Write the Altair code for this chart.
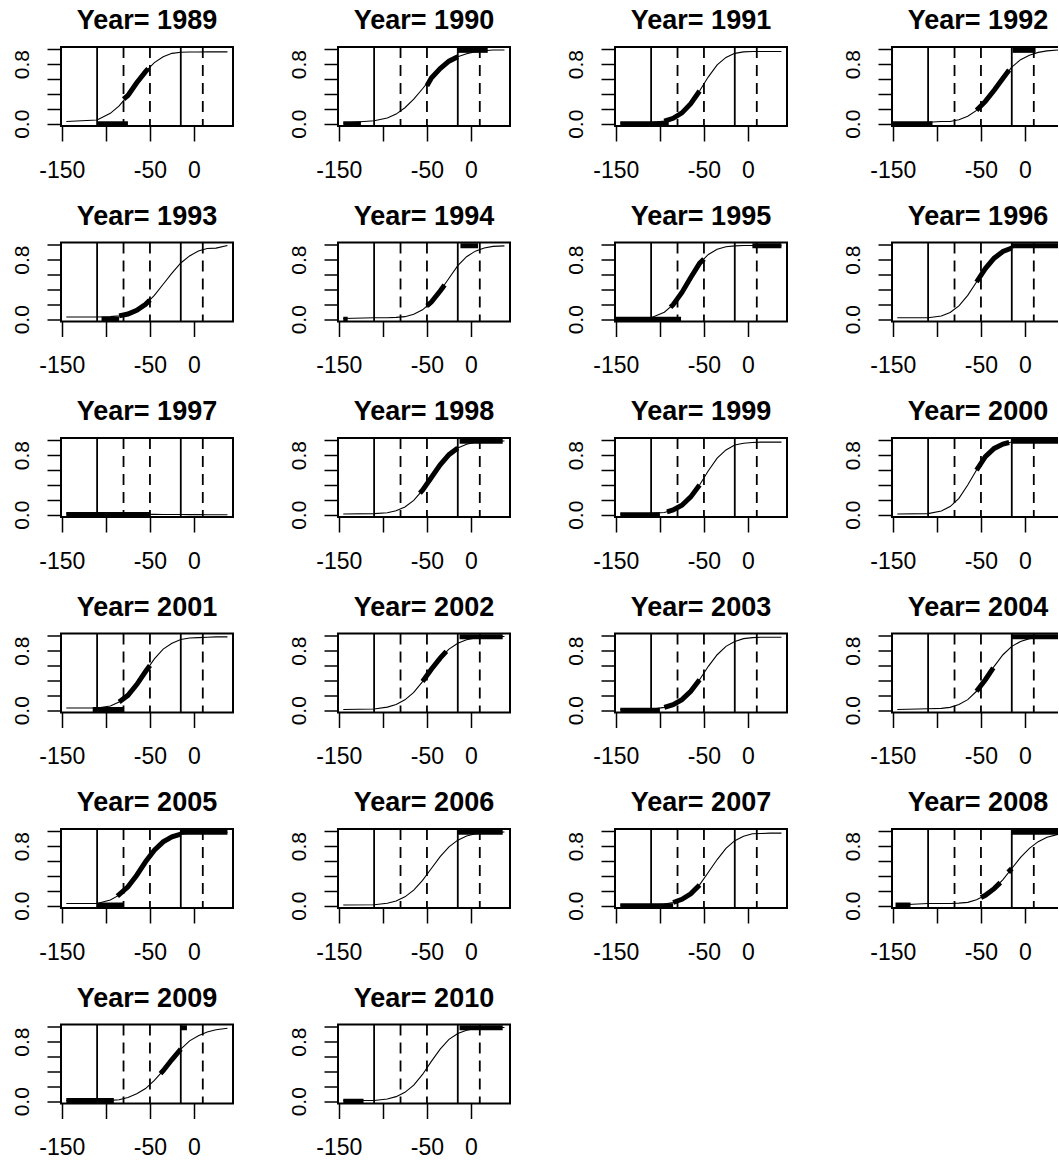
import altair as alt
import pandas as pd

YEARS = list(range(1989, 2011))

CURVE_X = [-145, -110, -95, -85, -75, -65, -55, -45, -35, -25, -15, -5, 5, 15, 25, 38]
CURVE_Y = {
    1989: [0.03, 0.05, 0.14, 0.24, 0.38, 0.55, 0.70, 0.82, 0.90, 0.945, 0.96, 0.962, 0.963, 0.964, 0.965, 0.965],
    1990: [0.01, 0.04, 0.078, 0.13, 0.215, 0.33, 0.47, 0.615, 0.74, 0.84, 0.90, 0.94, 0.968, 0.98, 0.99, 0.99],
    1991: [0.01, 0.015, 0.035, 0.073, 0.146, 0.27, 0.44, 0.63, 0.79, 0.89, 0.945, 0.965, 0.97, 0.97, 0.97, 0.97],
    1992: [0.01, 0.02, 0.03, 0.03, 0.054, 0.10, 0.18, 0.30, 0.45, 0.61, 0.76, 0.86, 0.92, 0.958, 0.978, 0.99],
    1993: [0.03, 0.03, 0.035, 0.045, 0.07, 0.12, 0.20, 0.32, 0.47, 0.62, 0.755, 0.85, 0.915, 0.95, 0.955, 0.99],
    1994: [0.01, 0.02, 0.02, 0.025, 0.035, 0.067, 0.127, 0.23, 0.38, 0.55, 0.72, 0.84, 0.914, 0.956, 0.978, 0.985],
    1995: [0.01, 0.02, 0.095, 0.195, 0.36, 0.56, 0.75, 0.87, 0.94, 0.973, 0.985, 0.99, 0.99, 0.99, 0.99, 0.99],
    1996: [0.02, 0.02, 0.044, 0.09, 0.18, 0.32, 0.50, 0.68, 0.82, 0.91, 0.956, 0.98, 0.985, 0.99, 0.99, 0.99],
    1997: [0.02, 0.015, 0.012, 0.01, 0.01, 0.008, 0.006, 0.005, 0.004, 0.003, 0.003, 0.002, 0.002, 0.001, 0.001, 0.0],
    1998: [0.01, 0.015, 0.027, 0.054, 0.105, 0.193, 0.33, 0.50, 0.67, 0.807, 0.895, 0.946, 0.973, 0.985, 0.99, 0.99],
    1999: [0.01, 0.02, 0.03, 0.064, 0.128, 0.24, 0.40, 0.59, 0.76, 0.87, 0.936, 0.96, 0.97, 0.975, 0.975, 0.975],
    2000: [0.01, 0.015, 0.051, 0.11, 0.22, 0.40, 0.60, 0.78, 0.89, 0.949, 0.977, 0.985, 0.99, 0.99, 0.99, 0.99],
    2001: [0.03, 0.03, 0.058, 0.112, 0.20, 0.345, 0.52, 0.69, 0.82, 0.90, 0.949, 0.97, 0.975, 0.98, 0.985, 0.985],
    2002: [0.01, 0.016, 0.042, 0.078, 0.14, 0.24, 0.385, 0.55, 0.70, 0.82, 0.90, 0.946, 0.97, 0.98, 0.985, 0.99],
    2003: [0.01, 0.014, 0.039, 0.076, 0.143, 0.255, 0.41, 0.59, 0.745, 0.857, 0.924, 0.961, 0.975, 0.98, 0.98, 0.98],
    2004: [0.01, 0.02, 0.025, 0.039, 0.076, 0.143, 0.255, 0.41, 0.59, 0.745, 0.857, 0.924, 0.961, 0.98, 0.985, 0.99],
    2005: [0.03, 0.03, 0.076, 0.143, 0.255, 0.41, 0.59, 0.745, 0.857, 0.924, 0.961, 0.975, 0.98, 0.985, 0.985, 0.985],
    2006: [0.01, 0.013, 0.034, 0.065, 0.12, 0.21, 0.34, 0.50, 0.66, 0.79, 0.88, 0.935, 0.966, 0.98, 0.985, 0.99],
    2007: [0.01, 0.01, 0.022, 0.044, 0.086, 0.16, 0.28, 0.45, 0.62, 0.77, 0.873, 0.933, 0.966, 0.97, 0.975, 0.975],
    2008: [0.01, 0.03, 0.03, 0.03, 0.035, 0.046, 0.082, 0.14, 0.23, 0.35, 0.50, 0.65, 0.77, 0.86, 0.92, 0.96],
    2009: [0.01, 0.01, 0.012, 0.02, 0.05, 0.10, 0.17, 0.28, 0.41, 0.56, 0.70, 0.81, 0.88, 0.93, 0.96, 0.98],
    2010: [0.01, 0.011, 0.031, 0.062, 0.12, 0.216, 0.36, 0.535, 0.70, 0.83, 0.908, 0.953, 0.976, 0.985, 0.99, 0.99],
}

# thick parts of the curve: per year, list of segments of (x, y) points
THICK = {
    1989: [[(-80, 0.33), (-75, 0.38), (-65, 0.55), (-55, 0.70), (-52, 0.74)]],
    1990: [[(-50, 0.51), (-45, 0.615), (-35, 0.74), (-25, 0.84), (-15, 0.90)]],
    1991: [[(-95, 0.035), (-85, 0.073), (-75, 0.146), (-65, 0.27), (-55, 0.44)]],
    1992: [[(-55, 0.18), (-45, 0.30), (-35, 0.45), (-25, 0.61), (-18, 0.72)]],
    1993: [[(-85, 0.045), (-75, 0.07), (-65, 0.12), (-55, 0.20), (-50, 0.26)]],
    1994: [[(-50, 0.18), (-45, 0.23), (-35, 0.38), (-30, 0.46)]],
    1995: [[(-88, 0.16), (-85, 0.195), (-75, 0.36), (-65, 0.56), (-55, 0.75), (-50, 0.81)]],
    1996: [[(-55, 0.50), (-45, 0.68), (-35, 0.82), (-25, 0.91), (-15, 0.956)]],
    1997: [],
    1998: [[(-58, 0.29), (-55, 0.33), (-45, 0.50), (-35, 0.67), (-25, 0.807), (-15, 0.895)]],
    1999: [[(-92, 0.04), (-85, 0.064), (-75, 0.128), (-65, 0.24), (-55, 0.40)]],
    2000: [[(-55, 0.60), (-45, 0.78), (-35, 0.89), (-25, 0.949), (-18, 0.97)]],
    2001: [[(-85, 0.112), (-75, 0.20), (-65, 0.345), (-55, 0.52), (-50, 0.60)]],
    2002: [[(-55, 0.385), (-45, 0.55), (-35, 0.70), (-28, 0.79)]],
    2003: [[(-95, 0.039), (-85, 0.076), (-75, 0.143), (-65, 0.255), (-55, 0.41)]],
    2004: [[(-55, 0.255), (-45, 0.41), (-36, 0.57)]],
    2005: [[(-87, 0.13), (-75, 0.255), (-65, 0.41), (-55, 0.59), (-45, 0.745), (-35, 0.857), (-25, 0.924), (-15, 0.961)]],
    2006: [],
    2007: [[(-85, 0.044), (-75, 0.086), (-65, 0.16), (-55, 0.28)]],
    2008: [[(-50, 0.11), (-45, 0.14), (-35, 0.23), (-28, 0.31)], [(-19, 0.45), (-15, 0.50)]],
    2009: [[(-38, 0.37), (-35, 0.41), (-25, 0.56), (-15, 0.70)]],
    2010: [],
}

# thick horizontal runs of observations at the bottom (0) or top (1)
BAR_YEAR = [1989, 1990, 1990, 1991, 1992, 1992, 1993, 1994, 1994, 1995, 1995, 1996, 1997,
            1998, 1999, 2000, 2001, 2002, 2003, 2004, 2005, 2005, 2006, 2007, 2008, 2008,
            2009, 2009, 2010, 2010]
BAR_LEVEL = [0, 0, 0.985, 0, 0, 0.985, 0, 0, 0.985, 0, 0.985, 0.985, 0.005,
             0.985, 0, 0.985, 0.01, 0.985, 0, 0.985, 0.01, 0.985, 0.985, 0, 0.01, 0.985,
             0.01, 0.985, 0, 0.985]
BAR_X1 = [-110, -145, -15, -145, -150, -14, -105, -145, -12, -150, 5, -15, -145,
          -13, -145, -15, -115, -13, -145, -15, -110, -15, -15, -145, -147, -15,
          -145, -15, -145, -13]
BAR_X2 = [-75, -125, 19, -90, -105, 12, -85, -140, 8, -76, 38, 44, -50,
          36, -100, 44, -80, 36, -100, 44, -80, 38, 36, -85, -130, 44,
          -91, -8, -122, 36]

SOLID_X = [-110, -15]
DASHED_X = [-80, -50, 10]
X_TICKS = [-150, -100, -50, 0]
Y_TICKS = [0, 0.2, 0.4, 0.6, 0.8, 1.0]
X_DOMAIN = [-151, 44.3]
Y_DOMAIN = [-0.03, 1.03]

FONT = "Liberation Sans"

x_axis = alt.Axis(values=X_TICKS, labelExpr="datum.value == -100 ? '' : '' + datum.value",
                  domain=False, grid=False, tickSize=15, tickWidth=1.5, tickColor="black",
                  labelFont=FONT, labelFontSize=23, labelColor="black", labelPadding=18,
                  labelOverlap=False, labelFlush=False, labelBound=False, title=None)
y_axis = alt.Axis(values=Y_TICKS,
                  labelExpr="datum.value < 0.01 ? '0.0' : (abs(datum.value - 0.8) < 0.01 ? '0.8' : '')",
                  domain=False, grid=False, tickSize=14, tickWidth=1.5, tickColor="black",
                  labelFont=FONT, labelFontSize=21, labelColor="black", labelPadding=19,
                  labelAngle=270, labelAlign="center", labelBaseline="alphabetic",
                  labelOverlap=False, labelFlush=False, labelBound=False, title=None)

X = alt.X("x:Q", scale=alt.Scale(domain=X_DOMAIN, nice=False, zero=False), axis=x_axis)
Y = alt.Y("y:Q", scale=alt.Scale(domain=Y_DOMAIN, nice=False, zero=False), axis=y_axis)


def panel(yr):
    cdf = pd.DataFrame({"x": CURVE_X, "y": CURVE_Y[yr]})
    trows = []
    for i, seg in enumerate(THICK[yr]):
        for x, y in seg:
            trows.append({"seg": i, "x": x, "y": y})
    tdf = pd.DataFrame(trows, columns=["seg", "x", "y"])
    brows = [{"x": a, "x2": b, "y": lv} for yy, lv, a, b in zip(BAR_YEAR, BAR_LEVEL, BAR_X1, BAR_X2) if yy == yr]
    bdf = pd.DataFrame(brows, columns=["x", "x2", "y"])

    solid = alt.Chart(pd.DataFrame({"x": SOLID_X})).mark_rule(color="black", strokeWidth=1.8).encode(x=X)
    dashed = alt.Chart(pd.DataFrame({"x": DASHED_X})).mark_rule(
        color="black", strokeWidth=1.8, strokeDash=[11, 7]).encode(x=X)
    curve = alt.Chart(cdf).mark_line(color="black", strokeWidth=1.1, clip=True).encode(x=X, y=Y)
    layers = [solid, dashed, curve]
    if len(tdf):
        layers.append(alt.Chart(tdf).mark_line(color="black", strokeWidth=5, clip=True).encode(
            x=X, y=Y, detail="seg:N"))
    if len(bdf):
        layers.append(alt.Chart(bdf).mark_rule(color="black", strokeWidth=5, clip=True).encode(
            x=X, x2="x2:Q", y=Y))
    return alt.layer(*layers).properties(
        width=172, height=79,
        title=alt.TitleParams(f"Year= {yr}", font=FONT, fontSize=27, fontWeight="bold",
                              color="black", anchor="middle", offset=-10, baseline="alphabetic"))


panels = [panel(y) for y in YEARS]
rows = [alt.hconcat(*panels[i:i + 4], spacing=52) for i in range(0, len(panels), 4)]
# the right-hand column runs past the 1059 px frame, as in the original picture
chart = alt.vconcat(*rows, spacing=18.5).properties(
    padding={"left": 9, "top": 6, "right": -7, "bottom": 0}
).configure_view(stroke="black", strokeWidth=2)

chart.save("out.html", embed_options={"renderer": "svg", "actions": False})
